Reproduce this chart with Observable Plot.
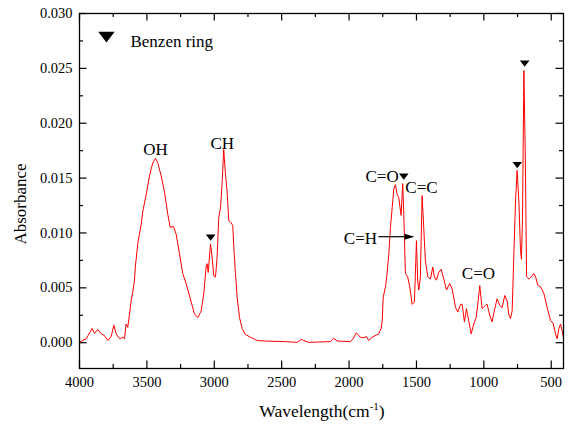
<!DOCTYPE html>
<html>
<head>
<meta charset="utf-8">
<script src="https://cdn.jsdelivr.net/npm/d3@7"></script>
<script src="https://cdn.jsdelivr.net/npm/@observablehq/plot@0.6"></script>
<style>
  html, body { margin: 0; padding: 0; background: #fff; }
  #chart { width: 569px; height: 428px; }
  #chart svg, #chart svg text { font-family: "Liberation Serif", "Times New Roman", serif !important; }
</style>
</head>
<body>
<div id="chart"></div>
<script>
// ---- data ----
const wavenumber = [4000,3950,3906,3889,3864,3839,3815,3790,3765,3745,3728,3702,3679,3666,3654,3642,3629,3617,3605,3592,3585,3567,3555,3542,3530,3505,3481,3456,3436,3419,3394,3369,3345,3327,3303,3283,3258,3234,3209,3171,3147,3122,3097,3078,3060,3053,3045,3028,3016,3004,2991,2979,2967,2954,2942,2930,2917,2905,2892,2880,2863,2855,2843,2830,2813,2793,2769,2732,2682,2621,2472,2385,2355,2336,2299,2138,2113,2088,1990,1970,1946,1916,1891,1871,1854,1829,1797,1780,1762,1754,1747,1730,1718,1705,1693,1680,1668,1656,1643,1631,1614,1602,1594,1582,1565,1550,1532,1515,1500,1491,1483,1471,1458,1446,1434,1416,1396,1379,1367,1352,1335,1317,1297,1277,1253,1235,1210,1193,1173,1161,1144,1129,1112,1094,1075,1057,1045,1030,1013,988,976,956,939,922,902,882,864,845,827,815,802,790,778,765,753,740,728,721,713,703,693,683,666,649,629,616,599,579,555,530,505,486,468,456,443,431,418,409];
const absorbance = [0.00005,0.00036,0.0013,0.00085,0.0012,0.0008,0.00066,0.0002,0.00057,0.0016,0.0008,0.00036,0.0005,0.00036,0.0017,0.0014,0.0026,0.0038,0.0046,0.0057,0.007,0.0091,0.0099,0.0108,0.012,0.0135,0.0152,0.0164,0.0168,0.0164,0.0152,0.0137,0.0117,0.0105,0.0106,0.0099,0.0081,0.0063,0.0054,0.0037,0.0026,0.0023,0.0029,0.0045,0.007,0.0072,0.0064,0.009,0.0078,0.0061,0.006,0.0078,0.0114,0.0123,0.0145,0.0176,0.0154,0.0138,0.0111,0.011,0.0107,0.0087,0.0063,0.0041,0.0023,0.0013,0.00075,0.0005,0.0002,0.00015,0.0001,0.00003,0.0003,0.0002,0.00003,0.0001,0.0004,0.00015,0.0001,0.00036,0.0009,0.0005,0.00045,0.00057,0.0002,0.0005,0.0007,0.0008,0.0013,0.002,0.0041,0.0051,0.0063,0.0081,0.0105,0.0123,0.014,0.0144,0.0135,0.0132,0.0116,0.0145,0.0117,0.0063,0.006,0.0051,0.0035,0.0037,0.0093,0.0057,0.0048,0.006,0.0134,0.0105,0.0075,0.006,0.0058,0.0069,0.006,0.0057,0.0064,0.0067,0.0058,0.0048,0.0054,0.0049,0.0032,0.0028,0.0035,0.0035,0.0019,0.0031,0.002,0.0008,0.0017,0.0023,0.0035,0.0052,0.0031,0.0034,0.0035,0.0025,0.0019,0.0029,0.004,0.0034,0.0032,0.0043,0.0038,0.0026,0.0022,0.0029,0.0078,0.0129,0.0157,0.0129,0.0084,0.0076,0.0114,0.0248,0.0175,0.006,0.0058,0.006,0.0063,0.006,0.0052,0.0051,0.0045,0.0032,0.002,0.0018,0.0008,0.00036,0.0013,0.0017,0.001,0.0005];

// benzene ring markers (wavenumber, absorbance)
const ringW = [3027, 1594, 752, 697];
const ringA = [0.00957, 0.01514, 0.01618, 0.02544];

// band labels
const labelText = ["OH", "CH", "C=O", "C=C", "C=H", "C=O"];
const labelW = [3436, 2941, 1755, 1463, 1916, 1040];
const labelA = [0.0176, 0.01815, 0.01512, 0.01415, 0.00951, 0.00633];

// C=H arrow
const arrowW = [1782, 1589];
const arrowHeadW = 1552;
const arrowA = 0.00966;

// legend
const legendW = 3800, legendA = 0.02785, legendTextW = 3622, legendTextA = 0.02748;
const legendLabel = "Benzen ring";

// axes
const xDomain = [4000, 409];
const yDomain = [-0.00235, 0.030];
const xMajor = [4000, 3500, 3000, 2500, 2000, 1500, 1000, 500];
const xMinor = [3750, 3250, 2750, 2250, 1750, 1250, 750];
const yMajor = [0, 0.005, 0.010, 0.015, 0.020, 0.025, 0.030];
const yMinor = [0.0025, 0.0075, 0.0125, 0.0175, 0.0225, 0.0275];

// ---- build ----
const spectrum = wavenumber.map((w, i) => ({w, a: absorbance[i]}));
const rings = ringW.map((w, i) => ({w, a: ringA[i]}));
const labels = labelText.map((t, i) => ({t, w: labelW[i], a: labelA[i]}));

const FONT = "Liberation Serif, Times New Roman, serif";
const downTri = {draw(ctx, size) {
  const r = Math.sqrt(size / Math.PI), w = 2 * r, h = 0.65 * w;
  ctx.moveTo(-w / 2, -h / 2); ctx.lineTo(w / 2, -h / 2); ctx.lineTo(0, h / 2); ctx.closePath();
}};
const rightTri = {draw(ctx, size) {
  const r = Math.sqrt(size / Math.PI), l = 2 * r, h = 0.6 * l;
  ctx.moveTo(-l / 2, -h / 2); ctx.lineTo(l / 2, 0); ctx.lineTo(-l / 2, h / 2); ctx.closePath();
}};

const x0 = xDomain[0], x1 = xDomain[1], y0 = yDomain[0], y1 = yDomain[1];
const tickStyle = {stroke: "black", strokeWidth: 1.2};

const chart = Plot.plot({
  width: 569,
  height: 428,
  marginLeft: 79,
  marginRight: 6,
  marginTop: 13,
  marginBottom: 60,
  style: {fontFamily: FONT, fontSize: "14.5px", background: "white", color: "black"},
  x: {domain: xDomain, ticks: xMajor, tickFormat: d => String(d), tickSize: 0, tickPadding: 8, label: null},
  y: {domain: yDomain, ticks: yMajor, tickFormat: d => d.toFixed(3), tickSize: 0, tickPadding: 7, label: null},
  marks: [
    // inward ticks: bottom / top
    Plot.ruleX(xMajor, {x: d => d, y1: () => y0, y2: () => y0, insetTop: -7.5, ...tickStyle}),
    Plot.ruleX(xMinor, {x: d => d, y1: () => y0, y2: () => y0, insetTop: -4, ...tickStyle}),
    Plot.ruleX(xMajor, {x: d => d, y1: () => y1, y2: () => y1, insetBottom: -7.5, ...tickStyle}),
    Plot.ruleX(xMinor, {x: d => d, y1: () => y1, y2: () => y1, insetBottom: -4, ...tickStyle}),
    // inward ticks: left / right
    Plot.ruleY(yMajor, {y: d => d, x1: () => x0, x2: () => x0, insetRight: -7.5, ...tickStyle}),
    Plot.ruleY(yMinor, {y: d => d, x1: () => x0, x2: () => x0, insetRight: -4, ...tickStyle}),
    Plot.ruleY(yMajor, {y: d => d, x1: () => x1, x2: () => x1, insetLeft: -7.5, ...tickStyle}),
    Plot.ruleY(yMinor, {y: d => d, x1: () => x1, x2: () => x1, insetLeft: -4, ...tickStyle}),
    // spectrum
    Plot.line(spectrum, {x: "w", y: "a", stroke: "#ff0000", strokeWidth: 1}),
    // benzene markers
    Plot.dot(rings, {x: "w", y: "a", symbol: downTri, r: 4.8, fill: "black", stroke: null}),
    // legend
    Plot.dot([legendLabel], {x: () => legendW, y: () => legendA, symbol: downTri, r: 8.2, fill: "black", stroke: null}),
    Plot.text([legendLabel], {x: () => legendTextW, y: () => legendTextA, text: d => d, textAnchor: "start", fontSize: 17, fontFamily: FONT, fill: "black"}),
    // band labels
    Plot.text(labels, {x: "w", y: "a", text: "t", fontSize: 17, fontFamily: FONT, fill: "black"}),
    // C=H arrow
    Plot.link([0], {x1: () => arrowW[0], x2: () => arrowW[1], y1: () => arrowA, y2: () => arrowA, stroke: "black", strokeWidth: 1.2}),
    Plot.dot([0], {x: () => arrowHeadW, y: () => arrowA, symbol: rightTri, r: 5, fill: "black", stroke: null}),
    Plot.frame({stroke: "black", strokeWidth: 1.3})
  ]
});

const svg = d3.select(chart);
// y title
svg.append("text")
  .attr("transform", "translate(22,204) rotate(-90)")
  .attr("text-anchor", "middle")
  .attr("dominant-baseline", "middle")
  .attr("font-size", 17)
  .attr("fill", "black")
  .text("Absorbance");
// x title with superscript
const xt = svg.append("text")
  .attr("x", 322).attr("y", 417)
  .attr("text-anchor", "middle")
  .attr("font-size", 17.5)
  .attr("fill", "black");
xt.append("tspan").text("Wavelength(cm");
xt.append("tspan").attr("font-size", 11).attr("dy", -7).text("-1");
xt.append("tspan").attr("dy", 7).text(")");
svg.selectAll("text").attr("font-family", FONT);

document.getElementById("chart").appendChild(chart);
</script>
</body>
</html>
